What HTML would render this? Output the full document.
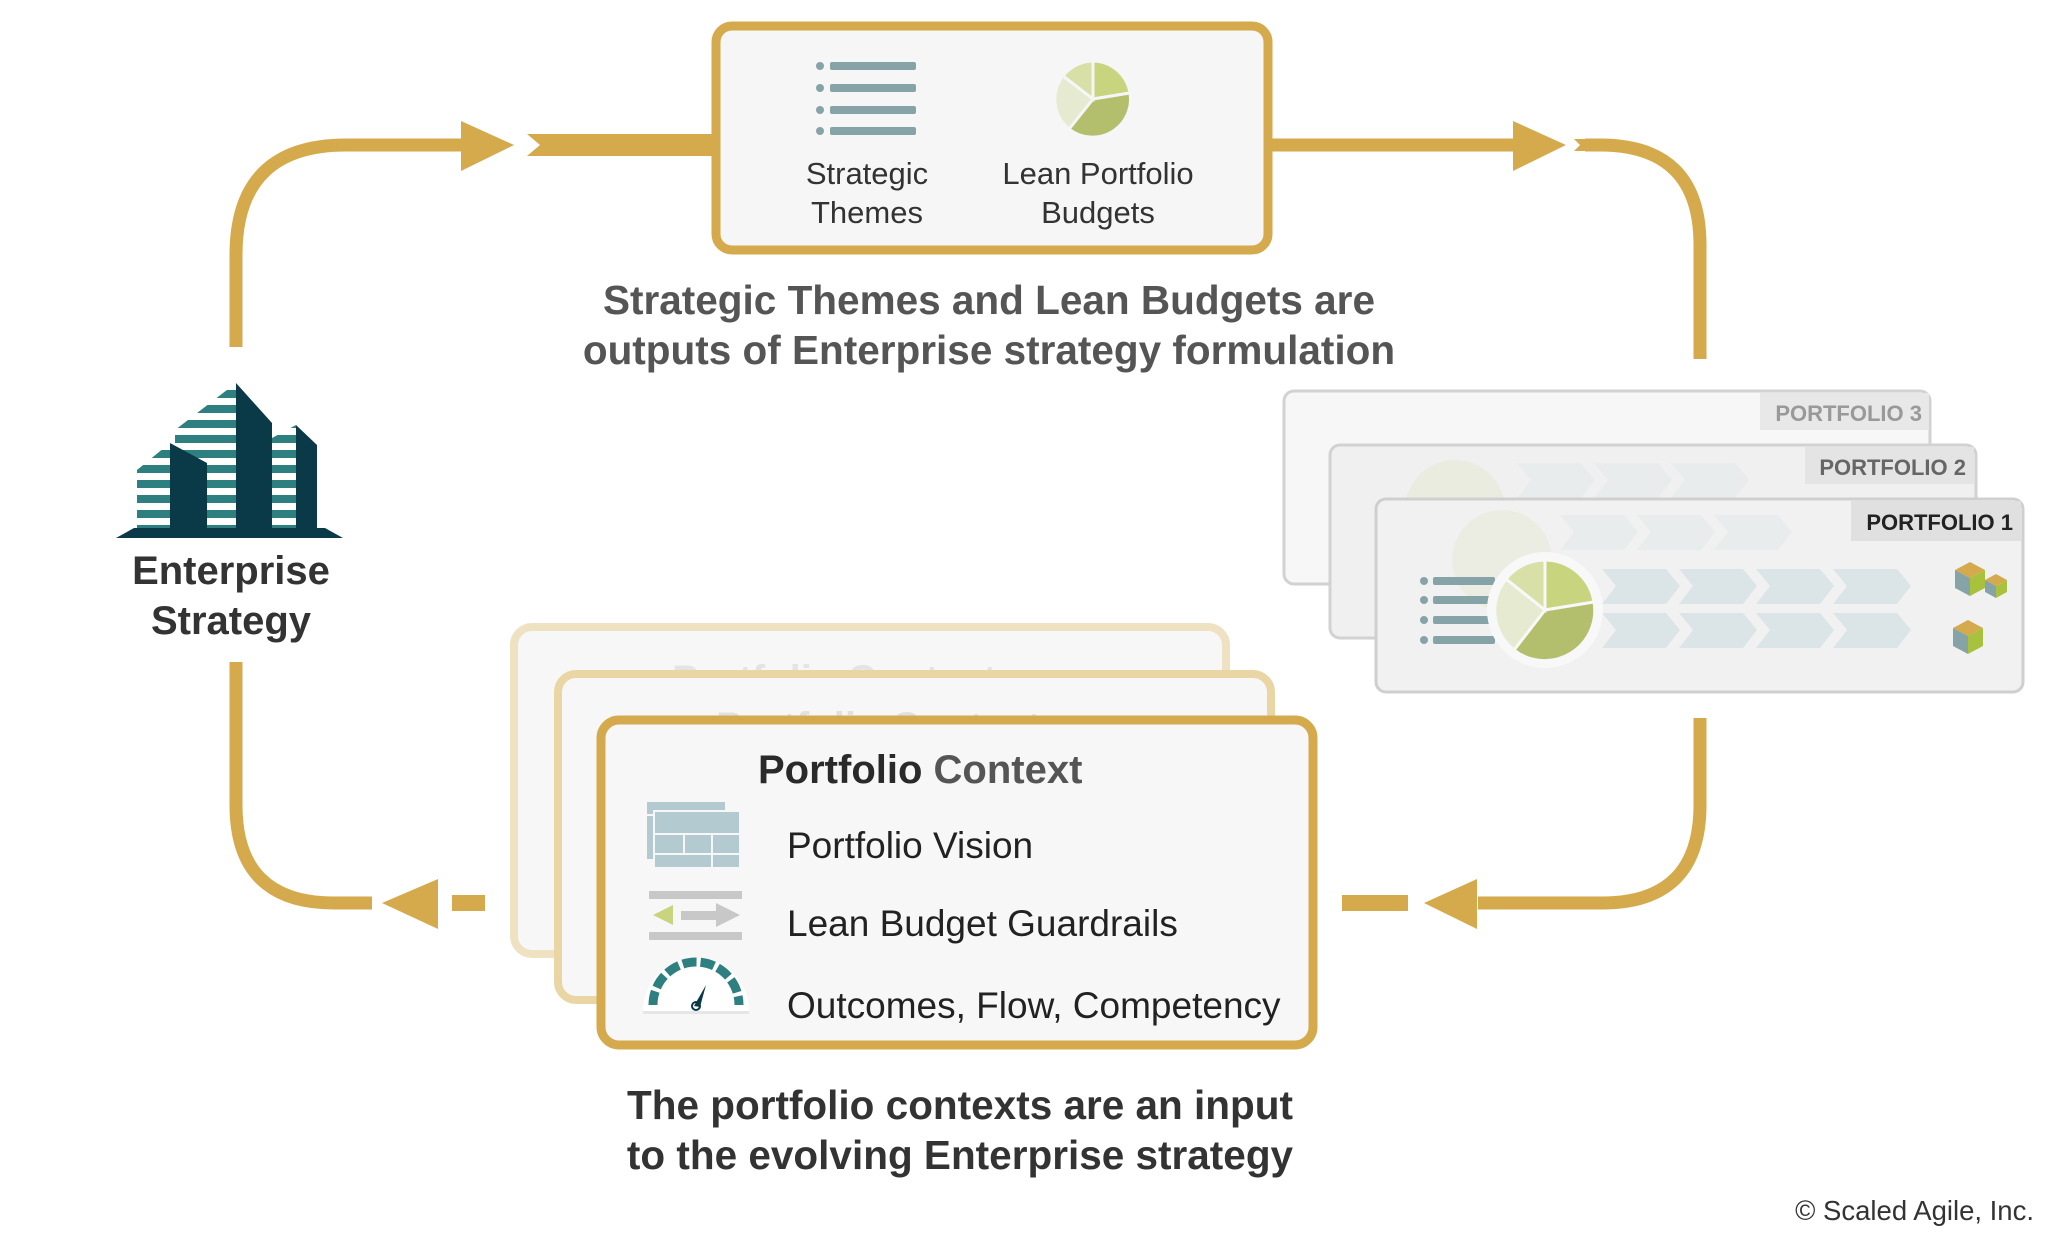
<!DOCTYPE html>
<html><head><meta charset="utf-8"><style>
html,body{margin:0;padding:0;background:#fff}
svg{display:block}
text{font-family:"Liberation Sans",Arial,sans-serif}
</style></head><body>
<svg width="2067" height="1247" viewBox="0 0 2067 1247" xmlns="http://www.w3.org/2000/svg">
<defs>
<pattern id="st" width="10" height="15" patternUnits="userSpaceOnUse"><rect width="10" height="8" fill="#2e8080"/></pattern>
<g id="chev"><polygon points="0,0 64,0 78,17 64,35 0,35 14,17" fill="#dbe5e7"/></g>
</defs>
<!-- connectors -->
<g fill="none" stroke="#d4aa4c" stroke-width="13">
<path d="M236 347 V255 Q236 145 346 145 H463"/>
<path d="M1272 145 H1515"/>
<path d="M1585 145 H1600 Q1700 145 1700 245 V359"/>
<path d="M1700 718 V805 Q1700 903 1602 903 H1478"/>
<path d="M372 903 H334 Q236 903 236 805 V662"/>
</g>
<g fill="#d4aa4c">
<polygon points="461,121 514,145 461,171"/>
<polygon points="527,134 712,134 712,156 527,156 540,145"/>
<polygon points="1513,121 1566,145 1513,171"/>
<polygon points="1574,139 1590,139 1590,151 1574,151 1580,145"/>
<polygon points="1477,879 1424,903 1477,929"/>
<rect x="1342" y="895" width="66" height="16"/>
<polygon points="438,879 382,903 438,929"/>
<rect x="452" y="895" width="33" height="16"/>
</g>
<!-- top box -->
<rect x="716" y="26" width="552" height="224" rx="16" fill="#f6f6f6" stroke="#d4aa4c" stroke-width="9"/>
<g fill="#86a4a8">
<circle cx="820" cy="66" r="4"/><rect x="830" y="62" width="86" height="8" rx="2"/>
<circle cx="820" cy="88" r="4"/><rect x="830" y="84" width="86" height="8" rx="2"/>
<circle cx="820" cy="110" r="4"/><rect x="830" y="106" width="86" height="8" rx="2"/>
<circle cx="820" cy="131" r="4"/><rect x="830" y="127" width="86" height="8" rx="2"/>
</g>
<g transform="translate(1093,99)" stroke="#f6f6f6" stroke-width="3">
<path d="M0 0 L0 -38 A38 38 0 0 1 37 -6 Z" fill="#c9d57e"/>
<path d="M0 0 L37 -6 A38 38 0 0 1 -24 30 Z" fill="#b4bf6e"/>
<path d="M0 0 L-24 30 A38 38 0 0 1 -30 -23 Z" fill="#e6ead0"/>
<path d="M0 0 L-30 -23 A38 38 0 0 1 0 -38 Z" fill="#d8e0a8"/>
</g>
<g font-size="31" fill="#333" text-anchor="middle">
<text x="867" y="184">Strategic</text><text x="867" y="223">Themes</text>
<text x="1098" y="184">Lean Portfolio</text><text x="1098" y="223">Budgets</text>
</g>
<g font-size="40.5" font-weight="bold" fill="#555" text-anchor="middle">
<text x="989" y="314">Strategic Themes and Lean Budgets are</text>
<text x="989" y="364">outputs of Enterprise strategy formulation</text>
</g>
<!-- building -->
<g>
<polygon points="175,430 236,383 236,532 175,532" fill="url(#st)"/>
<polygon points="236,383 272,423 272,532 236,532" fill="#0a3a48"/>
<polygon points="137,470 170,443 170,532 137,532" fill="url(#st)"/>
<polygon points="170,443 207,463 207,532 170,532" fill="#0a3a48"/>
<polygon points="272,438 296,425 296,532 272,532" fill="url(#st)"/>
<polygon points="296,425 317,445 317,532 296,532" fill="#0a3a48"/>
<polygon points="116,538 343,538 325,528 134,528" fill="#0a3a48"/>
</g>
<g font-size="40" font-weight="bold" fill="#333" text-anchor="middle">
<text x="231" y="584">Enterprise</text><text x="231" y="634">Strategy</text>
</g>
<!-- portfolio cards -->
<rect x="1284" y="391" width="646" height="193" rx="10" fill="#f7f7f7" stroke="#d2d2d2" stroke-width="3"/>
<rect x="1760" y="393" width="169" height="37" fill="#e8e8e8"/>
<text x="1922" y="421" font-size="22" font-weight="bold" fill="#999" text-anchor="end">PORTFOLIO 3</text>
<rect x="1330" y="445" width="646" height="193" rx="10" fill="#f0f0f0" stroke="#d2d2d2" stroke-width="3"/>
<g opacity="0.35"><circle cx="1455" cy="510" r="50" fill="#dfe5c0"/>
<use href="#chev" x="1517" y="463"/><use href="#chev" x="1594" y="463"/><use href="#chev" x="1671" y="463"/></g>
<rect x="1805" y="447" width="169" height="37" fill="#e4e4e4"/>
<text x="1966" y="475" font-size="22" font-weight="bold" fill="#666" text-anchor="end">PORTFOLIO 2</text>
<rect x="1376" y="499" width="647" height="193" rx="10" fill="#f1f1f1" stroke="#cfcfcf" stroke-width="3"/>
<g opacity="0.4"><circle cx="1502" cy="560" r="50" fill="#e4e8d0"/>
<use href="#chev" x="1560" y="515"/><use href="#chev" x="1637" y="515"/><use href="#chev" x="1714" y="515"/></g>
<rect x="1851" y="501" width="170" height="40" fill="#e0e0e0"/>
<text x="2013" y="530" font-size="22" font-weight="bold" fill="#222" text-anchor="end">PORTFOLIO 1</text>
<g fill="#86a4a8">
<circle cx="1424" cy="581" r="4"/><rect x="1433" y="577" width="62" height="8" rx="2"/>
<circle cx="1424" cy="600" r="4"/><rect x="1433" y="596" width="62" height="8" rx="2"/>
<circle cx="1424" cy="620" r="4"/><rect x="1433" y="616" width="62" height="8" rx="2"/>
<circle cx="1424" cy="640" r="4"/><rect x="1433" y="636" width="62" height="8" rx="2"/>
</g>
<g transform="translate(1602,569)">
<use href="#chev" x="0" y="0"/><use href="#chev" x="77" y="0"/><use href="#chev" x="154" y="0"/><use href="#chev" x="231" y="0"/>
<use href="#chev" x="0" y="44"/><use href="#chev" x="77" y="44"/><use href="#chev" x="154" y="44"/><use href="#chev" x="231" y="44"/>
</g>
<circle cx="1545" cy="610" r="58" fill="#f8f8f8"/>
<g transform="translate(1545,610)" stroke="#f8f8f8" stroke-width="3">
<path d="M0 0 L0 -50 A50 50 0 0 1 49 -8 Z" fill="#c9d57e"/>
<path d="M0 0 L49 -8 A50 50 0 0 1 -31 40 Z" fill="#b4bf6e"/>
<path d="M0 0 L-31 40 A50 50 0 0 1 -39 -31 Z" fill="#e6ead0"/>
<path d="M0 0 L-39 -31 A50 50 0 0 1 0 -50 Z" fill="#d8e0a8"/>
</g>
<g>
<polygon points="1955,570 1970,562 1985,570 1970,578" fill="#d4aa4c"/><polygon points="1955,570 1970,578 1970,596 1955,588" fill="#86a4a8"/><polygon points="1970,578 1985,570 1985,588 1970,596" fill="#a9c23d"/>
<polygon points="1985,580 1996,574 2007,580 1996,586" fill="#d4aa4c"/><polygon points="1985,580 1996,586 1996,598 1985,592" fill="#86a4a8"/><polygon points="1996,586 2007,580 2007,592 1996,598" fill="#a9c23d"/>
<polygon points="1953,628 1968,620 1983,628 1968,636" fill="#d4aa4c"/><polygon points="1953,628 1968,636 1968,654 1953,646" fill="#86a4a8"/><polygon points="1968,636 1983,628 1983,646 1968,654" fill="#a9c23d"/>
</g>
<!-- context cards -->
<rect x="514" y="627" width="712" height="327" rx="18" fill="#f7f7f7" stroke="#efe2c2" stroke-width="8"/>
<text x="672" y="693" font-size="40" font-weight="bold" fill="#e4e4e4">Portfolio Context</text>
<rect x="558" y="674" width="713" height="326" rx="18" fill="#f7f7f7" stroke="#e9d6a4" stroke-width="8"/>
<text x="716" y="740" font-size="40" font-weight="bold" fill="#e0e0e0">Portfolio Context</text>
<g font-size="37" fill="#ececec">
<text x="744" y="814">Portfolio Vision</text><text x="744" y="893">Lean Budget Guardrails</text><text x="744" y="974">Outcomes, Flow, Competency</text>
</g>
<rect x="601" y="720" width="712" height="325" rx="18" fill="#f7f7f7" stroke="#d4aa4c" stroke-width="9"/>
<text x="758" y="783" font-size="40" font-weight="bold" fill="#2a2a2a">Portfolio <tspan fill="#555">Context</tspan></text>
<g font-size="37" fill="#222">
<text x="787" y="858">Portfolio Vision</text><text x="787" y="936">Lean Budget Guardrails</text><text x="787" y="1018">Outcomes, Flow, Competency</text>
</g>
<g fill="#b3cbd0" stroke="#f7f7f7" stroke-width="2">
<rect x="646" y="801" width="80" height="14"/><rect x="646" y="815" width="8" height="45"/>
<rect x="654" y="811" width="86" height="23"/><rect x="654" y="834" width="30" height="20"/><rect x="684" y="834" width="28" height="20"/><rect x="712" y="834" width="28" height="20"/>
<rect x="654" y="854" width="58" height="14"/><rect x="712" y="854" width="28" height="14"/>
</g>
<g>
<rect x="649" y="891" width="93" height="8" fill="#c8c8c8"/>
<rect x="649" y="932" width="93" height="8" fill="#c8c8c8"/>
<polygon points="653,915 673,905 673,925" fill="#c9d57e"/>
<rect x="681" y="911" width="35" height="9" fill="#c8c8c8"/><polygon points="716,903 740,915 716,927" fill="#c8c8c8"/>
</g>
<g>
<path d="M643 1011 A53 53 0 0 1 749 1011 Z" fill="#fff"/>
<path d="M653 1005 A43 43 0 0 1 739 1005" fill="none" stroke="#2e8080" stroke-width="9" stroke-dasharray="14 4"/>
<path d="M694 1006 L706 985 L700 1007 Z" fill="#0a3a48"/><circle cx="696" cy="1006" r="4" fill="none" stroke="#0a3a48" stroke-width="2"/>
<rect x="643" y="1011" width="106" height="3" fill="#e6e6e6"/>
</g>
<g font-size="40.5" font-weight="bold" fill="#333" text-anchor="middle">
<text x="960" y="1119">The portfolio contexts are an input</text>
<text x="960" y="1169">to the evolving Enterprise strategy</text>
</g>
<text x="2034" y="1220" font-size="27.5" fill="#333" text-anchor="end">© Scaled Agile, Inc.</text>
</svg>
</body></html>
